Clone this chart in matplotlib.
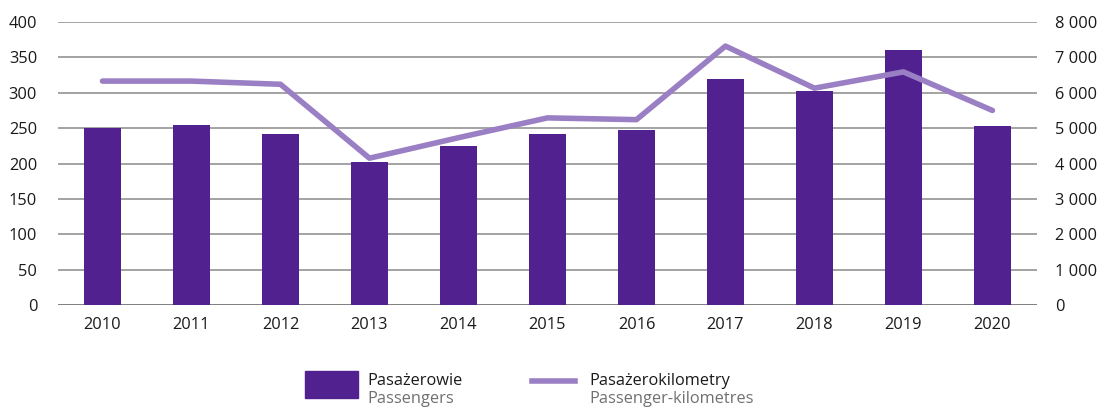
import matplotlib.pyplot as plt
from matplotlib.patches import Rectangle
from matplotlib.lines import Line2D
from matplotlib.ticker import FuncFormatter

# ================= DATA =================
years = ["2010", "2011", "2012", "2013", "2014", "2015", "2016", "2017", "2018", "2019", "2020"]
passengers = [250, 254, 242, 202, 225, 242, 247, 319, 302, 360, 253]
passenger_km = [6330, 6330, 6240, 4150, 4730, 5290, 5240, 7320, 6130, 6590, 5500]

left_ticks = list(range(0, 401, 50))
right_ticks = list(range(0, 8001, 1000))

# ================= STYLE =================
BAR_COLOR = "#51228f"
LINE_COLOR = "#9b7fc4"
GRID_COLOR = "#949494"
TEXT_COLOR = "#1a1a1a"
SUB_COLOR = "#707070"
FS = 11.8

plt.rcParams["font.family"] = ["Open Sans", "DejaVu Sans"]

fig = plt.figure(figsize=(10.98, 4.08), dpi=100)
ax = fig.add_axes([0.0528, 0.2525, 0.8916, 0.6935])
ax2 = ax.twinx()

x = list(range(len(years)))
ax.bar(x, passengers, width=0.42, color=BAR_COLOR, zorder=3)
ax2.plot(x, passenger_km, color=LINE_COLOR, linewidth=4, solid_capstyle="round", zorder=4)

ax.set_xlim(-0.5, len(years) - 0.5)
ax.set_ylim(0, 400)
ax2.set_ylim(0, 8000)
ax.set_yticks(left_ticks)
ax2.set_yticks(right_ticks)
ax2.yaxis.set_major_formatter(FuncFormatter(lambda v, p: f"{int(v):,}".replace(",", " ")))

ax.set_xticks(x)
ax.set_xticklabels(years)

# horizontal grid only, baseline a bit darker
for v in left_ticks:
    ax.axhline(v, color="#6a6a6a" if v == 0 else GRID_COLOR, linewidth=1.2, zorder=1)

for a in (ax, ax2):
    for s in a.spines.values():
        s.set_visible(False)
    a.tick_params(length=0, labelsize=FS, colors=TEXT_COLOR)
ax.tick_params(axis="y", pad=15)
ax.tick_params(axis="x", pad=9)
ax2.tick_params(axis="y", pad=13)
ax2.set_zorder(ax.get_zorder() + 1)
ax2.patch.set_visible(False)

# ================= LEGEND =================
fig.patches.append(Rectangle((305 / 1098, 1 - 398 / 408), 53 / 1098, 27 / 408,
                             transform=fig.transFigure, color=BAR_COLOR))
fig.lines.append(Line2D([532 / 1098, 575 / 1098], [1 - 381 / 408] * 2,
                        transform=fig.transFigure, color=LINE_COLOR, linewidth=4))
fig.text(367 / 1098, 1 - 381 / 408, "Pasażerowie", fontsize=FS, color=TEXT_COLOR, va="center")
fig.text(367 / 1098, 1 - 399 / 408, "Passengers", fontsize=FS, color=SUB_COLOR, va="center")
fig.text(589 / 1098, 1 - 381 / 408, "Pasażerokilometry", fontsize=FS, color=TEXT_COLOR, va="center")
fig.text(589 / 1098, 1 - 399 / 408, "Passenger-kilometres", fontsize=FS, color=SUB_COLOR, va="center")

fig.savefig("out.png", dpi=100, facecolor="white")
plt.close(fig)
